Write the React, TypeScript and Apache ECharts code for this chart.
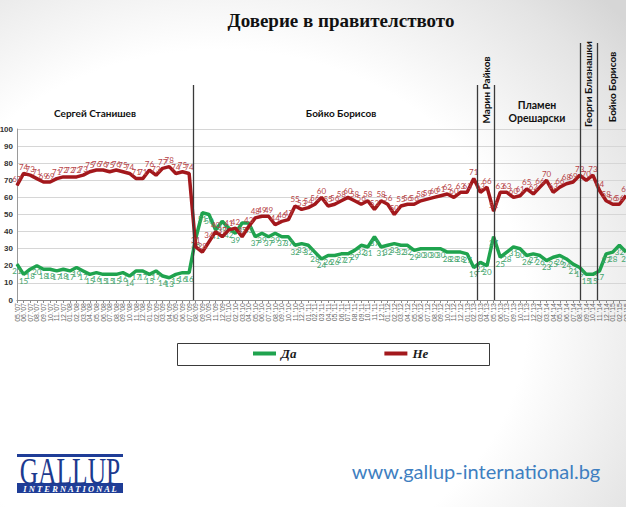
import React, { useEffect, useRef } from "react";
import * as echarts from "echarts";

const categories = [
  "05.'07", "06.'07", "07.'07", "08.'07", "09.'07", "10.'07", "11.'07", "12.'07",
  "01.'08", "02.'08", "03.'08", "04.'08", "05.'08", "06.'08", "07.'08", "08.'08", "09.'08", "10.'08", "11.'08", "12.'08",
  "01.'09", "02.'09", "03.'09", "04.'09", "05.'09", "06.'09", "07.'09", "08.'09", "09.'09", "10.'09", "11.'09", "12.'09",
  "01.'10", "02.'10", "03.'10", "04.'10", "05.'10", "06.'10", "07.'10", "08.'10", "09.'10", "10.'10", "11.'10", "12.'10",
  "01.'11", "02.'11", "03.'11", "04.'11", "05.'11", "06.'11", "07.'11", "08.'11", "09.'11", "10.'11", "11.'11", "12.'11",
  "01.'12", "02.'12", "03.'12", "04.'12", "05.'12", "06.'12", "07.'12", "08.'12", "09.'12", "10.'12", "11.'12", "12.'12",
  "01.'13", "02.'13", "03.'13", "04.'13", "05.'13", "06.'13", "07.'13", "09.'13", "10.'13", "11.'13", "12.'13",
  "02.'14", "03.'14", "04.'14", "05.'14", "06.'14", "07.'14", "08.'14", "09.'14", "10.'14", "11.'14", "12.'14",
  "01.'15", "02.'15", "03.'15",
];

const yesValues = [
  21, 15, 18, 20, 18, 18, 17, 18, 17, 19, 17, 15, 16, 15, 15, 15, 16, 14, 17, 17, 15, 17, 14, 13, 15, 16, 16,
  36, 51, 50, 41, 46, 42, 39, 45, 45, 37, 39, 37, 39, 37, 37, 32, 33, 32, 28, 24, 26, 26, 27, 27, 29, 32, 31, 37,
  31, 32, 33, 32, 32, 29, 30, 30, 30, 30, 28, 28, 28, 27, 19,
  22, 20, 37,
  25, 28, 31, 30, 26, 27, 26, 23, 25, 26, 24, 21,
  19, 15, 15, 17, 27, 28, 32, 28,
];

const noValues = [
  67, 74, 73, 71, 69, 69, 71, 72, 72, 72, 73, 75, 76, 76, 75, 76, 75, 74, 71, 71, 76, 73, 77, 78, 74, 75, 74,
  31, 28, 34, 40, 37, 41, 42, 37, 43, 48,
  49, 49, 44, 46, 47, 55, 53, 54, 56, 60,
  55, 56, 58, 60, 58, 56, 58, 53, 58, 56,
  50, 55, 56, 56, 58, 59, 60, 61, 62, 60, 63, 63, 71,
  63, 66, 52, 63, 63, 60, 61, 65, 62, 66, 70, 63, 66, 68, 69, 73, 70, 73, 64, 58, 56, 56, 61,
];

const seriesNames = ["Да", "Не"];
const yTickMin = 0;
const yTickMax = 100;
const yTickStep = 10;

// government changes, as fractional category positions
const govBreaks = [26.6, 69.5, 72, 85, 87.6];
const govBreakTops = [85, 85, 85, 43, 43];

const GREEN = "#1fa34e";
const RED = "#a3181c";

export default function App() {
  const ref = useRef<HTMLDivElement>(null);

  useEffect(() => {
    if (!ref.current) return;
    const chart = echarts.init(ref.current, undefined, { renderer: "svg" });
    const labelFont = "Lato";
    chart.setOption({
      animation: false,
      grid: { left: 17, right: 0, top: 129, bottom: 207, outerBoundsMode: "none", containLabel: false },
      legend: {
        left: 253,
        top: 347,
        padding: 0,
        itemWidth: 23,
        itemHeight: 4,
        itemGap: 88,
        icon: "rect",
        data: seriesNames,
        textStyle: {
          fontFamily: "Liberation Serif",
          fontStyle: "italic",
          fontWeight: "bold",
          fontSize: 13,
          color: "#1a1a1a",
        },
      },
      xAxis: {
        type: "category",
        data: categories,
        boundaryGap: false,
        axisLine: { show: true, lineStyle: { color: "#8c8c8c", width: 1 } },
        axisTick: { show: true, interval: 0, length: 3, lineStyle: { color: "#8c8c8c" } },
        axisLabel: {
          interval: 0,
          rotate: 90,
          fontSize: 7,
          margin: 3,
          color: "#666",
          fontFamily: "Liberation Sans",
        },
        splitLine: { show: false },
      },
      yAxis: {
        type: "value",
        min: yTickMin,
        max: yTickMax,
        interval: yTickStep,
        axisLine: { show: true, lineStyle: { color: "#9a9a9a" } },
        axisTick: { show: false },
        axisLabel: {
          fontSize: 8,
          fontWeight: "bold",
          color: "#333",
          margin: 4,
          fontFamily: "Liberation Sans",
        },
        splitLine: { show: true, lineStyle: { color: "#d6d6d6", width: 1 } },
      },
      series: [
        {
          name: seriesNames[0],
          type: "line",
          data: yesValues,
          color: GREEN,
          lineStyle: { width: 3.5, color: GREEN },
          symbol: "circle",
          symbolSize: 1,
          showSymbol: true,
          showAllSymbol: true,
          itemStyle: { color: GREEN },
          label: {
            show: true,
            position: "bottom",
            distance: 2,
            fontSize: 8,
            fontFamily: labelFont,
            color: "#43a46c",
          },
          z: 3,
        },
        {
          name: seriesNames[1],
          type: "line",
          data: noValues,
          color: RED,
          lineStyle: { width: 3.5, color: RED },
          symbol: "circle",
          symbolSize: 1,
          showSymbol: true,
          showAllSymbol: true,
          itemStyle: { color: RED },
          label: {
            show: true,
            position: "top",
            distance: 2,
            fontSize: 8,
            fontFamily: labelFont,
            color: "#b8474b",
          },
          z: 4,
        },
      ],
    });

    const px = (f: number) => {
      const i = Math.floor(f);
      const a = chart.convertToPixel({ xAxisIndex: 0 }, i) as unknown as number;
      const b = chart.convertToPixel({ xAxisIndex: 0 }, i + 1) as unknown as number;
      return a + (f - i) * (b - a);
    };
    const yZero = chart.convertToPixel({ yAxisIndex: 0 }, 0) as unknown as number;

    const txt = (
      text: string,
      x: number,
      y: number,
      font: string,
      fill: string,
      rotation = 0,
      extra: any = {}
    ) => ({
      type: "text",
      x,
      y,
      rotation,
      z: 10,
      ...extra,
      style: {
        text,
        font,
        fill,
        align: "center",
        verticalAlign: "middle",
        textAlign: "center",
        textVerticalAlign: "middle",
      },
    });

    const nameFont = 'bold 10px "Lato"';
    const elements: any[] = [];
    govBreaks.forEach((b, k) => {
      const x = Math.round(px(b)) + 0.5;
      elements.push({
        type: "line",
        z: 5,
        shape: { x1: x, y1: govBreakTops[k], x2: x, y2: yZero },
        style: { stroke: "#3a3a3a", lineWidth: 1.3 },
      });
    });
    elements.push(
      txt("Доверие в правителството", 341, 20, 'bold 19px "Liberation Serif"', "#111"),
      txt("Сергей Станишев", 95, 113, nameFont, "#111"),
      txt("Бойко Борисов", 341, 113, nameFont, "#111"),
      txt("Пламен", 537, 105, 'bold 10.5px "Lato"', "#111"),
      txt("Орешарски", 537, 118, 'bold 10.5px "Lato"', "#111"),
      txt("Марин Райков", 486, 90, nameFont, "#111", Math.PI / 2),
      txt("Георги Близнашки", 588, 84, nameFont, "#111", Math.PI / 2),
      txt("Бойко Борисов", 612, 87, nameFont, "#111", Math.PI / 2),
      {
        type: "rect",
        z: 1,
        shape: { x: 177.5, y: 343.5, width: 312, height: 22 },
        style: { fill: "rgba(255,255,255,0)", stroke: "#3a3a3a", lineWidth: 1 },
      },
      {
        type: "rect",
        shape: { x: 17, y: 454, width: 106, height: 3 },
        style: { fill: "#1f3d97" },
      },
      txt("GALLUP", 70, 471, '38px "Liberation Serif"', "#1c3a8f", 0, { scaleX: 0.67 }),
      {
        type: "rect",
        shape: { x: 17, y: 483, width: 106, height: 10 },
        style: { fill: "#1f3d97" },
      },
      txt("I N T E R N A T I O N A L", 70, 488.5, 'italic bold 8.5px "Liberation Serif"', "#ffffff"),
      txt("www.gallup-international.bg", 476, 471, '20px "Lato"', "#3f7fc1")
    );
    chart.setOption({ graphic: elements }, { replaceMerge: ["graphic"] } as any);

    return () => chart.dispose();
  }, []);

  return (
    <div
      ref={ref}
      style={{
        position: "absolute",
        left: 0,
        top: 0,
        width: 626,
        height: 507,
        background:
          "radial-gradient(ellipse 85% 90% at 35% 62%, #ffffff 58%, #e4e4e4 88%, #d6d6d6 100%)",
      }}
    />
  );
}
